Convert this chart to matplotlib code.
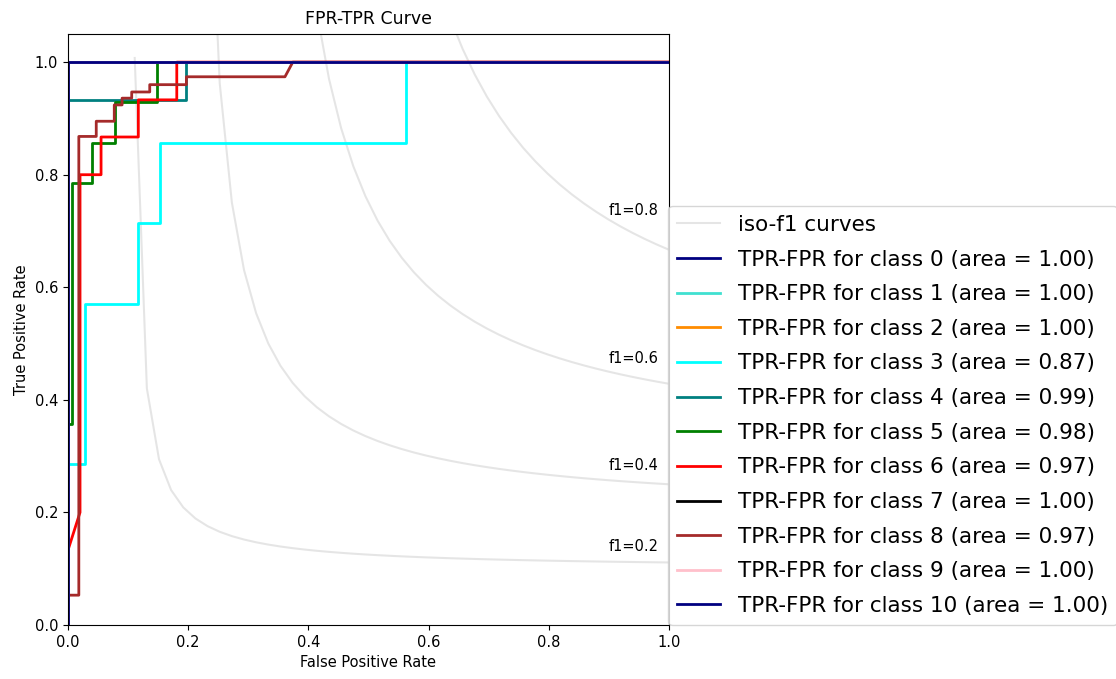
import numpy as np
import matplotlib
matplotlib.use("Agg")
import matplotlib.pyplot as plt

# ---- data ----
f_scores = [0.2, 0.4, 0.6, 0.8]

class_names = ["0", "1", "2", "3", "4", "5", "6", "7", "8", "9", "10"]
class_areas = [1.00, 1.00, 1.00, 0.87, 0.99, 0.98, 0.97, 1.00, 0.97, 1.00, 1.00]
class_colors = ["navy", "turquoise", "darkorange", "aqua", "teal", "green",
                "red", "black", "brown", "pink", "navy"]

fpr_perfect = [0.0, 0.0, 1.0]
tpr_perfect = [0.0, 1.0, 1.0]

fpr_3 = [0.0, 0.0, 0.028, 0.028, 0.117, 0.117, 0.153, 0.153, 0.562, 0.562, 1.0]
tpr_3 = [0.0, 0.286, 0.286, 0.571, 0.571, 0.714, 0.714, 0.857, 0.857, 1.0, 1.0]

fpr_4 = [0.0, 0.0, 0.196, 0.196, 1.0]
tpr_4 = [0.0, 0.933, 0.933, 1.0, 1.0]

fpr_5 = [0.0, 0.0, 0.007, 0.007, 0.040, 0.040, 0.078, 0.078, 0.148, 0.148, 1.0]
tpr_5 = [0.0, 0.357, 0.357, 0.786, 0.786, 0.857, 0.857, 0.929, 0.929, 1.0, 1.0]

fpr_6 = [0.0, 0.0, 0.020, 0.020, 0.055, 0.055, 0.117, 0.117, 0.181, 0.181, 1.0]
tpr_6 = [0.0, 0.133, 0.200, 0.800, 0.800, 0.867, 0.867, 0.933, 0.933, 1.0, 1.0]

fpr_8 = [0.0, 0.0, 0.018, 0.018, 0.047, 0.047, 0.077, 0.077, 0.090, 0.090,
         0.106, 0.106, 0.136, 0.136, 0.197, 0.197, 0.361, 0.374, 1.0]
tpr_8 = [0.0, 0.053, 0.053, 0.868, 0.868, 0.895, 0.895, 0.924, 0.924, 0.936,
         0.936, 0.947, 0.947, 0.960, 0.960, 0.974, 0.974, 1.0, 1.0]

fpr_list = [fpr_perfect, fpr_perfect, fpr_perfect, fpr_3, fpr_4, fpr_5,
            fpr_6, fpr_perfect, fpr_8, fpr_perfect, fpr_perfect]
tpr_list = [tpr_perfect, tpr_perfect, tpr_perfect, tpr_3, tpr_4, tpr_5,
            tpr_6, tpr_perfect, tpr_8, tpr_perfect, tpr_perfect]

# ---- figure ----
plt.rcParams['font.family'] = ['DejaVu Sans']
fig = plt.figure(figsize=(11.16, 6.79), dpi=100)
ax = fig.add_axes([68 / 1116, 1 - 625 / 679, 601 / 1116, 591 / 679])

lines, labels = [], []
for f_score in f_scores:
    x = np.linspace(0.01, 1)
    y = f_score * x / (2 * x - f_score)
    l, = ax.plot(x[y >= 0], y[y >= 0], color='gray', alpha=0.2, lw=1.5)
    ax.annotate('f1={0:0.1f}'.format(f_score), xy=(0.9, y[45] + 0.02),
                fontsize=10.5)
lines.append(l)
labels.append('iso-f1 curves')

for name, area, color, fpr, tpr in zip(class_names, class_areas, class_colors,
                                        fpr_list, tpr_list):
    l, = ax.plot(fpr, tpr, color=color, lw=2)
    lines.append(l)
    labels.append('TPR-FPR for class {0} (area = {1:0.2f})'.format(name, area))

ax.set_xlim([0.0, 1.0])
ax.set_ylim([0.0, 1.05])
ax.set_xlabel('False Positive Rate', fontsize=10.5)
ax.set_ylabel('True Positive Rate', fontsize=10.5)
ax.set_title('FPR-TPR Curve', fontsize=12.5, pad=7)
ax.tick_params(labelsize=10.5)
ax.legend(lines, labels, loc=(0.999, 0.0), prop=dict(size=15.5),
          labelspacing=0.68, borderpad=0.42)

fig.savefig('out.png', dpi=100)
